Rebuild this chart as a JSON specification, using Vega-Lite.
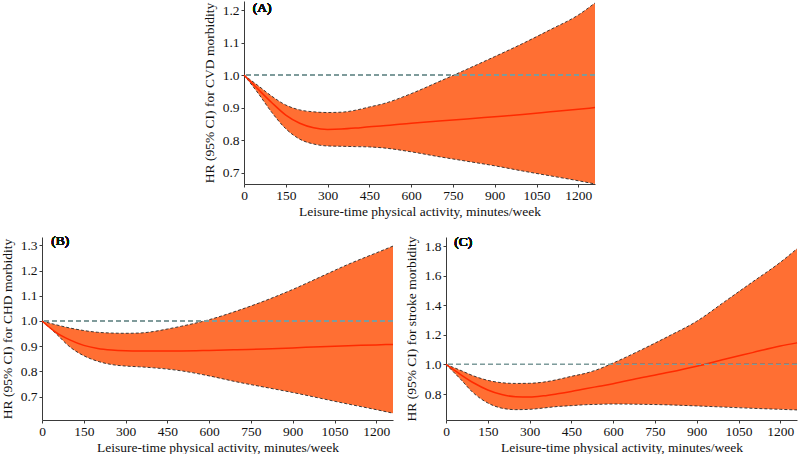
{
  "$schema": "https://vega.github.io/schema/vega-lite/v6.json",
  "padding": 0,
  "background": "white",
  "spacing": 16,
  "center": true,
  "config": {
    "font": "Liberation Serif",
    "view": {"stroke": null},
    "text": {"font": "Liberation Serif", "fontWeight": "normal"},
    "axis": {
      "grid": false,
      "labelFont": "Liberation Serif",
      "labelFontSize": 13.5,
      "labelFontWeight": "normal",
      "titleFont": "Liberation Serif",
      "titleFontSize": 13.5,
      "titleFontWeight": "normal",
      "domainColor": "#3a3a3a",
      "tickColor": "#3a3a3a",
      "tickSize": 3,
      "labelColor": "#111111",
      "titleColor": "#111111",
      "labelPadding": 1,
      "titlePadding": 3,
      "labelOverlap": false,
      "labelFlush": false
    },
    "axisY": {"labelPadding": 2, "labelOverlap": false, "titlePadding": 5.7}
  },
  "datasets": {
    "A": [
      {"x": 0, "lo": 1.0, "hr": 1.0, "hi": 1.0},
      {"x": 50, "lo": 0.945, "hr": 0.957, "hi": 0.968},
      {"x": 100, "lo": 0.885, "hr": 0.915, "hi": 0.935},
      {"x": 150, "lo": 0.835, "hr": 0.877, "hi": 0.908},
      {"x": 200, "lo": 0.803, "hr": 0.852, "hi": 0.893},
      {"x": 250, "lo": 0.788, "hr": 0.838, "hi": 0.887},
      {"x": 300, "lo": 0.782, "hr": 0.833, "hi": 0.885},
      {"x": 350, "lo": 0.781, "hr": 0.834, "hi": 0.886},
      {"x": 400, "lo": 0.780, "hr": 0.837, "hi": 0.892},
      {"x": 450, "lo": 0.779, "hr": 0.841, "hi": 0.902},
      {"x": 500, "lo": 0.776, "hr": 0.844, "hi": 0.912},
      {"x": 600, "lo": 0.764, "hr": 0.852, "hi": 0.943},
      {"x": 700, "lo": 0.749, "hr": 0.859, "hi": 0.980},
      {"x": 800, "lo": 0.735, "hr": 0.865, "hi": 1.018},
      {"x": 900, "lo": 0.721, "hr": 0.872, "hi": 1.057},
      {"x": 1000, "lo": 0.705, "hr": 0.879, "hi": 1.097},
      {"x": 1100, "lo": 0.690, "hr": 0.887, "hi": 1.140},
      {"x": 1200, "lo": 0.675, "hr": 0.895, "hi": 1.185},
      {"x": 1260, "lo": 0.665, "hr": 0.900, "hi": 1.222}
    ],
    "B": [
      {"x": 0, "lo": 1.0, "hr": 1.0, "hi": 1.0},
      {"x": 50, "lo": 0.950, "hr": 0.955, "hi": 0.985},
      {"x": 100, "lo": 0.897, "hr": 0.925, "hi": 0.972},
      {"x": 150, "lo": 0.862, "hr": 0.903, "hi": 0.962},
      {"x": 200, "lo": 0.840, "hr": 0.891, "hi": 0.955},
      {"x": 250, "lo": 0.827, "hr": 0.885, "hi": 0.952},
      {"x": 300, "lo": 0.821, "hr": 0.882, "hi": 0.951},
      {"x": 350, "lo": 0.818, "hr": 0.881, "hi": 0.952},
      {"x": 400, "lo": 0.814, "hr": 0.881, "hi": 0.958},
      {"x": 450, "lo": 0.809, "hr": 0.881, "hi": 0.968},
      {"x": 500, "lo": 0.802, "hr": 0.881, "hi": 0.979},
      {"x": 600, "lo": 0.782, "hr": 0.883, "hi": 1.005},
      {"x": 700, "lo": 0.758, "hr": 0.886, "hi": 1.040},
      {"x": 800, "lo": 0.737, "hr": 0.889, "hi": 1.080},
      {"x": 900, "lo": 0.716, "hr": 0.893, "hi": 1.125},
      {"x": 1000, "lo": 0.693, "hr": 0.898, "hi": 1.175},
      {"x": 1100, "lo": 0.670, "hr": 0.902, "hi": 1.225},
      {"x": 1200, "lo": 0.648, "hr": 0.905, "hi": 1.270},
      {"x": 1260, "lo": 0.634, "hr": 0.907, "hi": 1.297}
    ],
    "C": [
      {"x": 0, "lo": 1.0, "hr": 1.0, "hi": 1.0},
      {"x": 50, "lo": 0.905, "hr": 0.935, "hi": 0.962},
      {"x": 100, "lo": 0.805, "hr": 0.875, "hi": 0.922},
      {"x": 150, "lo": 0.740, "hr": 0.828, "hi": 0.893},
      {"x": 200, "lo": 0.705, "hr": 0.797, "hi": 0.877},
      {"x": 250, "lo": 0.695, "hr": 0.782, "hi": 0.872},
      {"x": 300, "lo": 0.697, "hr": 0.780, "hi": 0.873},
      {"x": 350, "lo": 0.706, "hr": 0.788, "hi": 0.881},
      {"x": 400, "lo": 0.716, "hr": 0.802, "hi": 0.898},
      {"x": 450, "lo": 0.722, "hr": 0.818, "hi": 0.920},
      {"x": 500, "lo": 0.728, "hr": 0.836, "hi": 0.940},
      {"x": 550, "lo": 0.731, "hr": 0.853, "hi": 0.970},
      {"x": 600, "lo": 0.733, "hr": 0.870, "hi": 1.010},
      {"x": 700, "lo": 0.731, "hr": 0.910, "hi": 1.098},
      {"x": 800, "lo": 0.727, "hr": 0.947, "hi": 1.192},
      {"x": 900, "lo": 0.720, "hr": 0.988, "hi": 1.292},
      {"x": 1000, "lo": 0.712, "hr": 1.035, "hi": 1.424},
      {"x": 1100, "lo": 0.704, "hr": 1.080, "hi": 1.557},
      {"x": 1200, "lo": 0.697, "hr": 1.125, "hi": 1.690},
      {"x": 1260, "lo": 0.693, "hr": 1.146, "hi": 1.782}
    ]
  },
  "vconcat": [
    {
      "width": 351,
      "height": 183,
      "data": {"name": "A"},
      "layer": [
        {
          "mark": {"type": "area", "color": "#ff6f33", "opacity": 1, "interpolate": "monotone"},
          "encoding": {
            "x": {"field": "x", "type": "quantitative", "scale": {"domain": [0, 1260], "nice": false}, "axis": {"values": [0, 150, 300, 450, 600, 750, 900, 1050, 1200], "format": "d", "labelOverlap": false}, "title": "Leisure-time physical activity, minutes/week"},
            "y": {"field": "lo", "type": "quantitative", "scale": {"domain": [0.665, 1.228], "nice": false, "zero": false}, "axis": {"values": [0.7, 0.8, 0.9, 1.0, 1.1, 1.2], "format": ".1f", "labelOverlap": false, "tickCount": 12}, "title": "HR (95% CI) for CVD morbidity"},
            "y2": {"field": "hi"}
          }
        },
        {
          "mark": {"type": "line", "color": "#2a2a2a", "strokeWidth": 0.9, "strokeDash": [3, 2], "interpolate": "monotone"},
          "encoding": {
            "x": {"field": "x", "type": "quantitative", "title": "Leisure-time physical activity, minutes/week"},
            "y": {"field": "lo", "type": "quantitative", "axis": {"values": [0.7, 0.8, 0.9, 1.0, 1.1, 1.2], "format": ".1f", "labelOverlap": false, "tickCount": 12}, "title": "HR (95% CI) for CVD morbidity"}
          }
        },
        {
          "mark": {"type": "line", "color": "#2a2a2a", "strokeWidth": 0.9, "strokeDash": [3, 2], "interpolate": "monotone"},
          "encoding": {
            "x": {"field": "x", "type": "quantitative", "title": "Leisure-time physical activity, minutes/week"},
            "y": {"field": "hi", "type": "quantitative", "axis": {"values": [0.7, 0.8, 0.9, 1.0, 1.1, 1.2], "format": ".1f", "labelOverlap": false, "tickCount": 12}, "title": "HR (95% CI) for CVD morbidity"}
          }
        },
        {
          "mark": {"type": "line", "color": "#ff2a00", "strokeWidth": 1.5, "interpolate": "monotone"},
          "encoding": {
            "x": {"field": "x", "type": "quantitative", "title": "Leisure-time physical activity, minutes/week"},
            "y": {"field": "hr", "type": "quantitative", "axis": {"values": [0.7, 0.8, 0.9, 1.0, 1.1, 1.2], "format": ".1f", "labelOverlap": false, "tickCount": 12}, "title": "HR (95% CI) for CVD morbidity"}
          }
        },
        {
          "mark": {"type": "rule", "color": "#7f9c9c", "strokeWidth": 1, "strokeDash": [5, 3]},
          "encoding": {"y": {"datum": 1}}
        },
        {
          "mark": {"type": "text", "text": "(A)", "align": "left", "baseline": "middle", "fontSize": 13.5, "font": "Liberation Serif", "fontWeight": "normal", "color": "#111111"},
          "encoding": {"x": {"datum": 31}, "y": {"datum": 1.207}}
        }
      ]
    },
    {
      "hconcat": [
        {
          "width": 351,
          "height": 183,
          "data": {"name": "B"},
          "layer": [
            {
              "mark": {"type": "area", "color": "#ff6f33", "opacity": 1, "interpolate": "monotone"},
              "encoding": {
                "x": {"field": "x", "type": "quantitative", "scale": {"domain": [0, 1260], "nice": false}, "axis": {"values": [0, 150, 300, 450, 600, 750, 900, 1050, 1200], "format": "d", "labelOverlap": false}, "title": "Leisure-time physical activity, minutes/week"},
                "y": {"field": "lo", "type": "quantitative", "scale": {"domain": [0.607, 1.333], "nice": false, "zero": false}, "axis": {"values": [0.7, 0.8, 0.9, 1.0, 1.1, 1.2, 1.3], "format": ".1f", "labelOverlap": false, "tickCount": 12}, "title": "HR (95% CI) for CHD morbidity"},
                "y2": {"field": "hi"}
              }
            },
            {
              "mark": {"type": "line", "color": "#2a2a2a", "strokeWidth": 0.9, "strokeDash": [3, 2], "interpolate": "monotone"},
              "encoding": {
                "x": {"field": "x", "type": "quantitative", "title": "Leisure-time physical activity, minutes/week"},
                "y": {"field": "lo", "type": "quantitative", "axis": {"values": [0.7, 0.8, 0.9, 1.0, 1.1, 1.2, 1.3], "format": ".1f", "labelOverlap": false, "tickCount": 12}, "title": "HR (95% CI) for CHD morbidity"}
              }
            },
            {
              "mark": {"type": "line", "color": "#2a2a2a", "strokeWidth": 0.9, "strokeDash": [3, 2], "interpolate": "monotone"},
              "encoding": {
                "x": {"field": "x", "type": "quantitative", "title": "Leisure-time physical activity, minutes/week"},
                "y": {"field": "hi", "type": "quantitative", "axis": {"values": [0.7, 0.8, 0.9, 1.0, 1.1, 1.2, 1.3], "format": ".1f", "labelOverlap": false, "tickCount": 12}, "title": "HR (95% CI) for CHD morbidity"}
              }
            },
            {
              "mark": {"type": "line", "color": "#ff2a00", "strokeWidth": 1.5, "interpolate": "monotone"},
              "encoding": {
                "x": {"field": "x", "type": "quantitative", "title": "Leisure-time physical activity, minutes/week"},
                "y": {"field": "hr", "type": "quantitative", "axis": {"values": [0.7, 0.8, 0.9, 1.0, 1.1, 1.2, 1.3], "format": ".1f", "labelOverlap": false, "tickCount": 12}, "title": "HR (95% CI) for CHD morbidity"}
              }
            },
            {
              "mark": {"type": "rule", "color": "#7f9c9c", "strokeWidth": 1, "strokeDash": [5, 3]},
              "encoding": {"y": {"datum": 1}}
            },
            {
              "mark": {"type": "text", "text": "(B)", "align": "left", "baseline": "middle", "fontSize": 13.5, "font": "Liberation Serif", "fontWeight": "normal", "color": "#111111"},
              "encoding": {"x": {"datum": 33}, "y": {"datum": 1.316}}
            }
          ]
        },
        {
          "width": 351,
          "height": 183,
          "data": {"name": "C"},
          "layer": [
            {
              "mark": {"type": "area", "color": "#ff6f33", "opacity": 1, "interpolate": "monotone"},
              "encoding": {
                "x": {"field": "x", "type": "quantitative", "scale": {"domain": [0, 1260], "nice": false}, "axis": {"values": [0, 150, 300, 450, 600, 750, 900, 1050, 1200], "format": "d", "labelOverlap": false}, "title": "Leisure-time physical activity, minutes/week"},
                "y": {"field": "lo", "type": "quantitative", "scale": {"domain": [0.625, 1.861], "nice": false, "zero": false}, "axis": {"values": [0.8, 1.0, 1.2, 1.4, 1.6, 1.8], "format": ".1f", "labelOverlap": false, "tickCount": 12}, "title": "HR (95% CI) for stroke morbidity"},
                "y2": {"field": "hi"}
              }
            },
            {
              "mark": {"type": "line", "color": "#2a2a2a", "strokeWidth": 0.9, "strokeDash": [3, 2], "interpolate": "monotone"},
              "encoding": {
                "x": {"field": "x", "type": "quantitative", "title": "Leisure-time physical activity, minutes/week"},
                "y": {"field": "lo", "type": "quantitative", "axis": {"values": [0.8, 1.0, 1.2, 1.4, 1.6, 1.8], "format": ".1f", "labelOverlap": false, "tickCount": 12}, "title": "HR (95% CI) for stroke morbidity"}
              }
            },
            {
              "mark": {"type": "line", "color": "#2a2a2a", "strokeWidth": 0.9, "strokeDash": [3, 2], "interpolate": "monotone"},
              "encoding": {
                "x": {"field": "x", "type": "quantitative", "title": "Leisure-time physical activity, minutes/week"},
                "y": {"field": "hi", "type": "quantitative", "axis": {"values": [0.8, 1.0, 1.2, 1.4, 1.6, 1.8], "format": ".1f", "labelOverlap": false, "tickCount": 12}, "title": "HR (95% CI) for stroke morbidity"}
              }
            },
            {
              "mark": {"type": "line", "color": "#ff2a00", "strokeWidth": 1.5, "interpolate": "monotone"},
              "encoding": {
                "x": {"field": "x", "type": "quantitative", "title": "Leisure-time physical activity, minutes/week"},
                "y": {"field": "hr", "type": "quantitative", "axis": {"values": [0.8, 1.0, 1.2, 1.4, 1.6, 1.8], "format": ".1f", "labelOverlap": false, "tickCount": 12}, "title": "HR (95% CI) for stroke morbidity"}
              }
            },
            {
              "mark": {"type": "rule", "color": "#7f9c9c", "strokeWidth": 1, "strokeDash": [5, 3]},
              "encoding": {"y": {"datum": 1}}
            },
            {
              "mark": {"type": "text", "text": "(C)", "align": "left", "baseline": "middle", "fontSize": 13.5, "font": "Liberation Serif", "fontWeight": "normal", "color": "#111111"},
              "encoding": {"x": {"datum": 30}, "y": {"datum": 1.827}}
            }
          ]
        }
      ],
      "spacing": 8
    }
  ]
}
